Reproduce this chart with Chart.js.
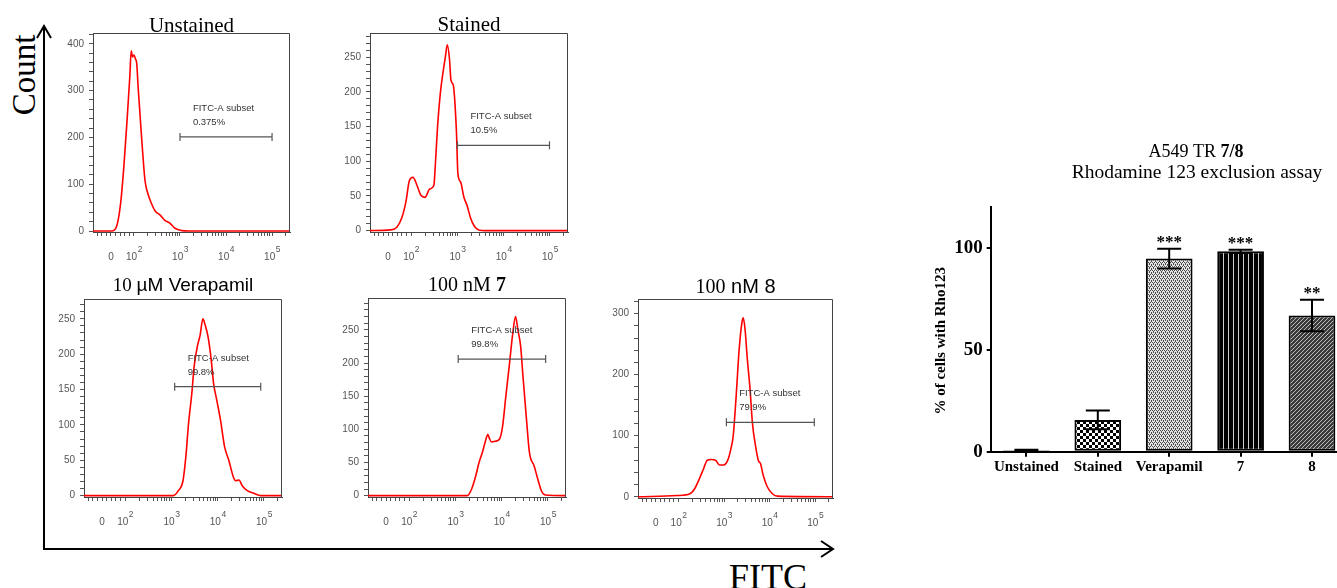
<!DOCTYPE html>
<html lang="en">
<head>
<meta charset="UTF-8">
<title>A549 TR 7/8 - Rhodamine 123 exclusion assay</title>
<script src="https://cdn.jsdelivr.net/npm/chart.js"></script>
<style>
  body { margin: 0; background: #fff; }
  #fig { position: relative; width: 1337px; height: 588px; overflow: hidden; background: #fff; }
  #fig canvas, #fig svg { position: absolute; }
</style>
</head>
<body>
<div id="fig">
  <svg width="1337" height="588" style="left:0;top:0">
    <g stroke="#000" stroke-width="2" fill="none">
      <line x1="44" y1="550" x2="44" y2="26"/>
      <polyline points="37,38 44,26 51,38"/>
      <line x1="43" y1="549" x2="832" y2="549"/>
      <polyline points="821,541 833,549 821,557"/>
    </g>
    <text x="35" y="75" transform="rotate(-90 35 75)" text-anchor="middle" font-family="Liberation Serif" font-size="33">Count</text>
    <text x="768" y="589" text-anchor="middle" font-family="Liberation Serif" font-size="36">FITC</text>
  </svg>
  <canvas id="h0"></canvas>
  <canvas id="h1"></canvas>
  <canvas id="h2"></canvas>
  <canvas id="h3"></canvas>
  <canvas id="h4"></canvas>
  <canvas id="bars"></canvas>
</div>
<script>
// FITC axis in decades: 1.5 = "0", 2 = 10^2, 3 = 10^3 ... ; y = cell count
const unstainedX = [1.11, 1.52, 1.62, 1.71, 1.78, 1.85, 1.91, 1.94, 1.97, 2.00, 2.03, 2.06, 2.09, 2.17, 2.24, 2.29, 2.38, 2.46, 2.57, 2.67, 2.78, 2.89, 3.04, 3.20, 5.39];
const unstainedY = [0, 0, 9, 59, 137, 237, 330, 385, 372, 376, 368, 358, 308, 194, 108, 84, 59, 43, 34, 23, 17, 6, 1, 0, 0];

const stainedX = [1.11, 1.55, 1.69, 1.80, 1.89, 1.96, 2.04, 2.11, 2.21, 2.30, 2.40, 2.49, 2.52, 2.57, 2.63, 2.69, 2.74, 2.78, 2.83, 2.86, 2.91, 2.94, 2.98, 3.01, 3.07, 3.14, 3.21, 3.28, 3.36, 3.46, 3.60, 5.39];
const stainedY = [0, 1, 5, 19, 43, 72, 77, 68, 51, 48, 60, 65, 92, 150, 198, 229, 251, 268, 246, 217, 210, 190, 140, 82, 70, 48, 36, 19, 7, 1, 0, 0];

const verapamilX = [1.11, 3.04, 3.15, 3.25, 3.31, 3.37, 3.44, 3.49, 3.56, 3.62, 3.68, 3.73, 3.79, 3.86, 3.91, 3.98, 4.06, 4.15, 4.24, 4.34, 4.39, 4.46, 4.53, 4.64, 4.79, 4.93, 5.39];
const verapamilY = [0, 0, 7, 21, 54, 102, 144, 182, 211, 227, 250, 241, 225, 192, 159, 135, 107, 69, 50, 26, 21, 22, 14, 7, 3, 0, 0];

const cmpd7X = [1.11, 3.26, 3.35, 3.44, 3.51, 3.59, 3.64, 3.70, 3.73, 3.78, 3.86, 3.95, 4.02, 4.09, 4.17, 4.24, 4.30, 4.35, 4.41, 4.46, 4.53, 4.60, 4.70, 4.78, 4.86, 4.94, 5.39];
const cmpd7Y = [0, 0, 10, 30, 50, 67, 80, 92, 87, 81, 82, 85, 105, 150, 200, 245, 270, 250, 225, 180, 120, 65, 45, 25, 7, 1, 0];

const cmpd8X = [1.11, 1.97, 2.25, 2.36, 2.46, 2.55, 2.63, 2.72, 2.81, 2.90, 2.99, 3.08, 3.15, 3.20, 3.26, 3.33, 3.39, 3.42, 3.46, 3.51, 3.57, 3.62, 3.70, 3.75, 3.80, 3.86, 3.95, 4.06, 4.17, 5.39];
const cmpd8Y = [0, 2, 5, 14, 30, 46, 60, 61, 60, 52, 52, 60, 79, 100, 160, 241, 285, 293, 274, 225, 176, 122, 79, 60, 54, 35, 16, 5, 1, 0];

const gateStart = [3.0, 3.0, 3.07, 3.06, 3.05];
const gateEnd = [5.0, 4.99, 4.93, 4.95, 4.98];
const gateLevel = [201, 123, 154, 206, 122];
const subsetPct = ['0.375%', '10.5%', '99.8%', '99.8%', '79.9%'];

const yMax = [423, 285, 278, 298, 324];
const yStep = [100, 50, 50, 50, 100];
const xTickValues = [1.5, 2, 3, 4, 5];
const xTickBase = ['0', '10', '10', '10', '10'];
const xTickExp = ['', '2', '3', '4', '5'];

const panelTitles = [
  [['Unstained', 'serif']],
  [['Stained', 'serif']],
  [['10 ', 'serif'], ['µM Verapamil', 'sans']],
  [['100 nM ', 'serif'], ['7', 'serifBold']],
  [['100', 'serif'], [' nM 8', 'sans']]
];

// bar chart: % of cells with Rho123
const groups = ['Unstained', 'Stained', 'Verapamil', '7', '8'];
const pctRho = [0.7, 15.6, 94.8, 98.4, 66.9];
const pctErr = [0.3, 4.6, 4.8, 0.8, 7.7];
const signif = ['', '', '***', '***', '**'];
const barYTicks = [0, 50, 100];

// ---- layout ----
const boxes = [
  { l: 93, t: 33, r: 290, b: 232 },
  { l: 370, t: 33, r: 568, b: 232 },
  { l: 84, t: 299, r: 282, b: 497 },
  { l: 368, t: 298, r: 566, b: 497 },
  { l: 638, t: 299, r: 833, b: 498 }
];
const titleSize = [21, 21, 19, 20, 20];
const titleGap = [1, 2, 8, 7, 6];

function fontFor(style, size) {
  if (style === 'sans') return size + 'px "Liberation Sans"';
  if (style === 'serifBold') return 'bold ' + size + 'px "Liberation Serif"';
  return size + 'px "Liberation Serif"';
}

function drawRich(ctx, segs, size, cx, baseline) {
  let w = 0;
  segs.forEach(s => { ctx.font = fontFor(s[1], size); w += ctx.measureText(s[0]).width; });
  let x = cx - w / 2;
  ctx.textAlign = 'left';
  ctx.textBaseline = 'alphabetic';
  ctx.fillStyle = '#000';
  segs.forEach(s => {
    ctx.font = fontFor(s[1], size);
    ctx.fillText(s[0], x, baseline);
    x += ctx.measureText(s[0]).width;
  });
}

Chart.defaults.font.family = '"Liberation Sans"';

const histExtras = {
  id: 'histExtras',
  afterDraw(chart, args, o) {
    const { ctx, chartArea: a, scales: { x, y } } = chart;
    const i = o.i;
    ctx.save();
    // top and right edges of the frame
    ctx.strokeStyle = '#444';
    ctx.lineWidth = 1;
    ctx.beginPath();
    ctx.moveTo(a.left, a.top + 0.5);
    ctx.lineTo(a.right - 0.5, a.top + 0.5);
    ctx.lineTo(a.right - 0.5, a.bottom);
    ctx.stroke();

    // FITC tick labels with superscript exponents
    ctx.fillStyle = '#555';
    ctx.textAlign = 'left';
    ctx.textBaseline = 'alphabetic';
    xTickValues.forEach((v, k) => {
      const px = x.getPixelForValue(v);
      ctx.font = '10px "Liberation Sans"';
      const wb = ctx.measureText(xTickBase[k]).width;
      ctx.font = '8.5px "Liberation Sans"';
      const we = ctx.measureText(xTickExp[k]).width;
      const x0 = px - (wb + we) / 2;
      ctx.font = '10px "Liberation Sans"';
      ctx.fillText(xTickBase[k], x0, a.bottom + 28);
      ctx.font = '8.5px "Liberation Sans"';
      ctx.fillText(xTickExp[k], x0 + wb + 0.5, a.bottom + 20);
    });

    // gate label
    const gx = x.getPixelForValue(gateStart[i] + 0.28);
    const gy = y.getPixelForValue(gateLevel[i]);
    ctx.fillStyle = '#333';
    ctx.font = '9.5px "Liberation Sans"';
    ctx.textBaseline = 'middle';
    ctx.fillText('FITC-A subset', gx, gy - 28.5);
    ctx.fillText(subsetPct[i], gx, gy - 14.5);

    drawRich(ctx, panelTitles[i], titleSize[i], (a.left + a.right) / 2, a.top - titleGap[i]);
    ctx.restore();
  }
};

const xMinor = [1.2, 1.3, 1.4, 1.6, 1.7, 1.8, 1.9];
for (let k = 2; k <= 5; k++) {
  for (let m = 2; m <= 9; m++) {
    if (k + Math.log10(m) < 5.39) xMinor.push(k + Math.log10(m));
  }
}

const PADL = 10, YW = 40, PADT = 40, PADR = 12, XH = 40;
const series = [
  [unstainedX, unstainedY],
  [stainedX, stainedY],
  [verapamilX, verapamilY],
  [cmpd7X, cmpd7Y],
  [cmpd8X, cmpd8Y]
];

series.forEach(([xs, ys], i) => {
  const b = boxes[i];
  const cv = document.getElementById('h' + i);
  cv.width = b.r - b.l + PADL + YW + PADR;
  cv.height = b.b - b.t + PADT + XH;
  cv.style.left = (b.l - PADL - YW) + 'px';
  cv.style.top = (b.t - PADT) + 'px';
  const minor = yStep[i] / 5;

  new Chart(cv, {
    type: 'line',
    data: {
      datasets: [
        {
          data: [{ x: gateStart[i], y: gateLevel[i] }, { x: gateEnd[i], y: gateLevel[i] }],
          borderColor: '#555', borderWidth: 1.2,
          pointStyle: 'line', pointRotation: 90, pointRadius: 4,
          pointBorderColor: '#555', pointBorderWidth: 1.2
        },
        {
          data: xs.map((x, k) => ({ x, y: ys[k] })),
          borderColor: '#ff0000', borderWidth: 1.6,
          pointRadius: 0, cubicInterpolationMode: 'monotone'
        }
      ]
    },
    options: {
      responsive: false,
      animation: false,
      events: [],
      layout: { padding: { left: PADL, top: PADT, right: PADR, bottom: 0 } },
      plugins: { legend: { display: false }, tooltip: { enabled: false }, histExtras: { i } },
      scales: {
        x: {
          type: 'linear', min: 1.11, max: 5.39,
          afterFit: s => { s.height = XH; },
          afterBuildTicks: s => {
            s.ticks = xTickValues.concat(xMinor).sort((p, q) => p - q).map(v => ({ value: v }));
          },
          ticks: { display: false, autoSkip: false },
          grid: { drawOnChartArea: false, tickLength: 4, color: '#555' },
          border: { color: '#444', width: 1 }
        },
        y: {
          min: -2, max: yMax[i],
          afterFit: s => { s.width = YW; },
          afterBuildTicks: s => {
            const t = [];
            for (let v = 0; v <= yMax[i]; v += minor) t.push({ value: v });
            s.ticks = t;
          },
          ticks: {
            autoSkip: false, padding: 5, color: '#555',
            font: { size: 10 },
            callback: v => (v % yStep[i] === 0 ? v : '')
          },
          grid: { drawOnChartArea: false, tickLength: 4, color: '#555' },
          border: { color: '#444', width: 1 }
        }
      }
    },
    plugins: [histExtras]
  });
});

// ---- bar chart ----
function pattern(w, h, draw) {
  const c = document.createElement('canvas');
  c.width = w; c.height = h;
  const g = c.getContext('2d');
  draw(g);
  return g.createPattern(c, 'repeat');
}

const fills = [
  '#ffffff',
  pattern(6, 6, g => {
    g.fillStyle = '#fff'; g.fillRect(0, 0, 6, 6);
    g.fillStyle = '#000'; g.fillRect(0, 0, 3, 3); g.fillRect(3, 3, 3, 3);
  }),
  pattern(4, 4, g => {
    g.fillStyle = '#e4e4e4'; g.fillRect(0, 0, 4, 4);
    g.fillStyle = '#4a4a4a';
    [[0, 0], [2, 0], [1, 1], [1, 2], [3, 2], [3, 3]].forEach(p => g.fillRect(p[0], p[1], 1, 1));
  }),
  pattern(5, 1, g => {
    g.fillStyle = '#000'; g.fillRect(0, 0, 5, 1);
    g.fillStyle = '#cfcfcf'; g.fillRect(3, 0, 1, 1);
  }),
  pattern(4, 4, g => {
    g.fillStyle = '#3a3a3a'; g.fillRect(0, 0, 4, 4);
    g.fillStyle = '#bdbdbd';
    for (let k = 0; k < 4; k++) g.fillRect(k, 3 - k, 1, 1);
  })
];

const barExtras = {
  id: 'barExtras',
  afterDatasetsDraw(chart) {
    const { ctx, scales: { y } } = chart;
    const bars = chart.getDatasetMeta(0).data;
    ctx.save();
    ctx.strokeStyle = '#000';
    ctx.lineWidth = 2;
    bars.forEach((bar, k) => {
      const hi = y.getPixelForValue(pctRho[k] + pctErr[k]);
      const lo = y.getPixelForValue(pctRho[k] - pctErr[k]);
      ctx.beginPath();
      ctx.moveTo(bar.x, hi); ctx.lineTo(bar.x, lo);
      ctx.moveTo(bar.x - 12, hi); ctx.lineTo(bar.x + 12, hi);
      ctx.moveTo(bar.x - 12, lo); ctx.lineTo(bar.x + 12, lo);
      ctx.stroke();
      if (signif[k]) {
        ctx.fillStyle = '#000';
        ctx.font = 'bold 17px "Liberation Serif"';
        ctx.textAlign = 'center';
        ctx.textBaseline = 'alphabetic';
        ctx.fillText(signif[k], bar.x, hi - 2);
      }
    });
    ctx.restore();
  },
  afterDraw(chart) {
    const ctx = chart.ctx;
    ctx.save();
    drawRich(ctx, [['A549 TR ', 'serif'], ['7/8', 'serifBold']], 18, 296, 26.7);
    drawRich(ctx, [['Rhodamine 123 exclusion assay', 'serif']], 19.5, 297, 48);
    ctx.translate(40.7, 210.8);
    ctx.rotate(-Math.PI / 2);
    ctx.font = 'bold 15px "Liberation Serif"';
    ctx.fillStyle = '#000';
    ctx.textAlign = 'center';
    ctx.textBaseline = 'middle';
    ctx.fillText('% of cells with Rho123', 0, 0);
    ctx.restore();
  }
};

const barCv = document.getElementById('bars');
barCv.width = 460;
barCv.height = 360;
barCv.style.left = '900px';
barCv.style.top = '130px';

new Chart(barCv, {
  type: 'bar',
  data: {
    labels: groups,
    datasets: [{
      data: pctRho,
      backgroundColor: fills,
      borderColor: '#000',
      borderWidth: 2,
      borderSkipped: false,
      categoryPercentage: 1,
      barPercentage: 0.654
    }]
  },
  options: {
    responsive: false,
    animation: false,
    events: [],
    layout: { padding: { left: 0, top: 77.3, right: 12.3, bottom: 0 } },
    plugins: { legend: { display: false }, tooltip: { enabled: false } },
    scales: {
      x: {
        afterFit: s => { s.height = 38.3; },
        ticks: { color: '#000', padding: 1, maxRotation: 0, autoSkip: false, font: { family: '"Liberation Serif"', weight: 'bold', size: 15 } },
        grid: { offset: false, drawOnChartArea: false, tickLength: 5, color: '#000', lineWidth: 2 },
        border: { color: '#000', width: 2 }
      },
      y: {
        min: 0, max: 120,
        afterFit: s => { s.width = 90.7; },
        afterBuildTicks: s => { s.ticks = barYTicks.map(v => ({ value: v })); },
        ticks: { color: '#000', padding: 4, font: { family: '"Liberation Serif"', weight: 'bold', size: 19 } },
        grid: { drawOnChartArea: false, tickLength: 4, color: '#000', lineWidth: 2 },
        border: { color: '#000', width: 2 }
      }
    }
  },
  plugins: [barExtras]
});
</script>
</body>
</html>
